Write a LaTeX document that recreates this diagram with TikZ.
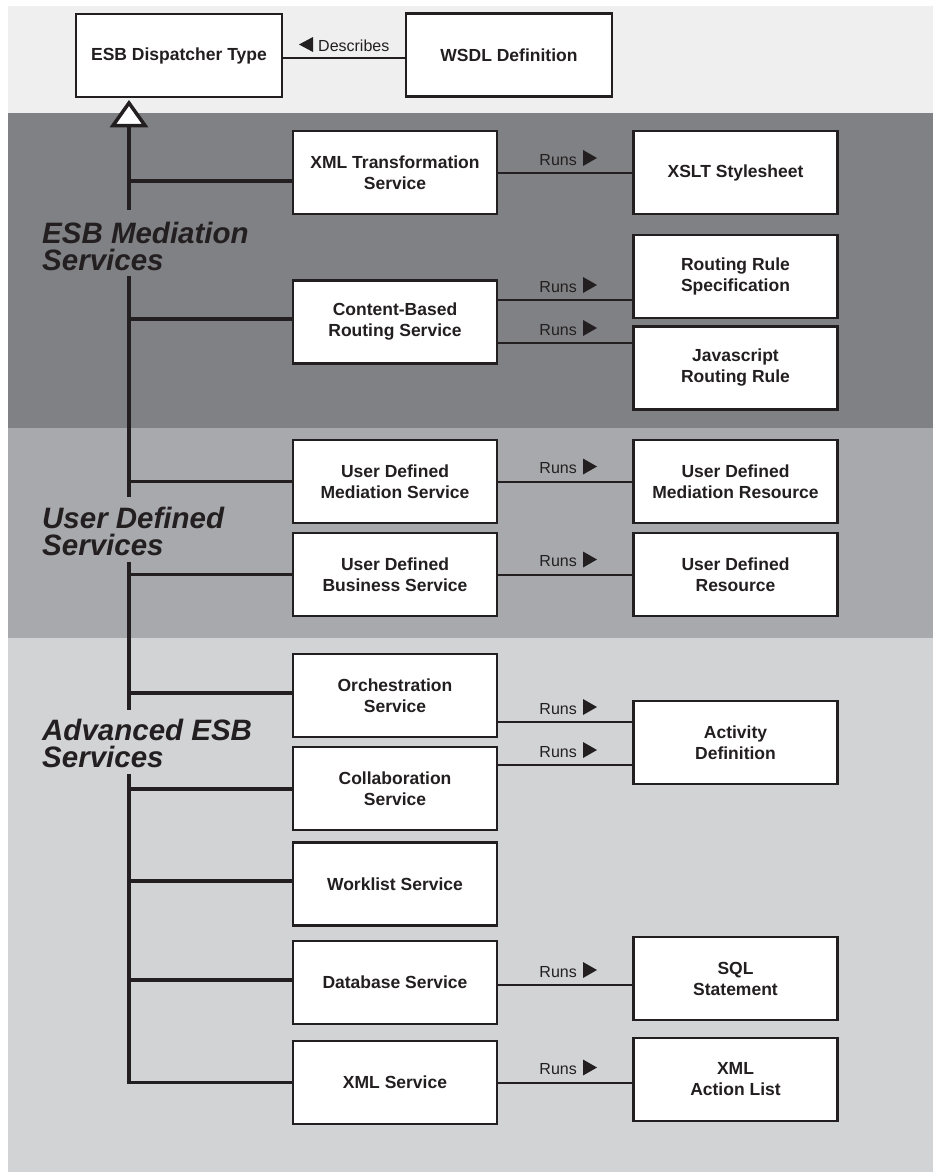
\documentclass[tikz,border=0pt]{standalone}
\usepackage{fontspec}
\setmainfont{Liberation Sans}
\usetikzlibrary{calc}

\definecolor{ink}{HTML}{231F20}
\definecolor{bandtop}{HTML}{EFEFEF}
\definecolor{banddark}{HTML}{808184}
\definecolor{bandmid}{HTML}{A7A9AC}
\definecolor{bandlight}{HTML}{D1D3D4}

\begin{document}
\begin{tikzpicture}[x=1pt,y=-1pt,
  box/.style={draw=ink, fill=white, line width=2.2pt,
    minimum width=204pt, minimum height=83pt, inner sep=2pt,
    align=center, text=ink,
    font=\fontsize{17.5}{21}\selectfont\bfseries},
  grouplabel/.style={anchor=base west, inner sep=0pt, align=left, text=ink,
    font=\fontsize{29.5}{27}\selectfont\bfseries\itshape},
  runslabel/.style={anchor=base east, inner sep=0pt, text=ink,
    font=\fontsize{16}{18}\selectfont},
  spine/.style={draw=ink, line width=3.5pt, line join=miter},
  link/.style={draw=ink, line width=2pt},
  pics/runtri/.style={code={\fill[ink] (0,0) -- (0,-16) -- (14,-8) -- cycle;}},
  pics/backtri/.style={code={\fill[ink] (0,0) -- (0,-15) -- (-14,-7.5) -- cycle;}}
]
% page and layer bands
\useasboundingbox (0,0) rectangle (933,1172);
\fill[white] (0,0) rectangle (933,1172);
\fill[bandtop]   (8,6)   rectangle (933,113);
\fill[banddark]  (8,113) rectangle (933,428);
\fill[bandmid]   (8,428) rectangle (933,638);
\fill[bandlight] (8,638) rectangle (933,1172);

% top row
\node[box, minimum width=206pt] (disp) at (179,55.5) {ESB Dispatcher Type};
\node[box, minimum width=206pt] (wsdl) at (509,55) {WSDL Definition};
\coordinate (dw) at ($(disp.east)+(0,2.5)$);
\draw[link] (dw) -- (dw -| wsdl.west);
\node[runslabel, anchor=base west] (desc) at (318,52) {Describes};
\pic at ($(desc.base west)+(-5,0)$) {backtri};

% middle column: services
\node[box] (xmlt)   at (395,172.5)  {XML Transformation\\Service};
\node[box] (cbr)    at (395,322)    {Content-Based\\Routing Service};
\node[box] (udms)   at (395,481.5)  {User Defined\\Mediation Service};
\node[box] (udbs)   at (395,574.5)  {User Defined\\Business Service};
\node[box] (orch)   at (395,695.5)  {Orchestration\\Service};
\node[box] (collab) at (395,788.5)  {Collaboration\\Service};
\node[box] (work)   at (395,884)    {Worklist Service};
\node[box] (db)     at (395,982.5)  {Database Service};
\node[box] (xmls)   at (395,1082.5) {XML Service};

% right column: resources
\node[box] (xslt) at (735.5,172.5)  {XSLT Stylesheet};
\node[box] (rrs)  at (735.5,276.5)  {Routing Rule\\Specification};
\node[box] (js)   at (735.5,368)    {Javascript\\Routing Rule};
\node[box] (udmr) at (735.5,481.5)  {User Defined\\Mediation Resource};
\node[box] (udr)  at (735.5,574.5)  {User Defined\\Resource};
\node[box] (act)  at (735.5,742.5)  {Activity\\Definition};
\node[box] (sql)  at (735.5,978.5)  {SQL\\Statement};
\node[box] (xal)  at (735.5,1079.5) {XML\\Action List};

% group labels (anchored on the baseline of their last line)
\node[grouplabel] (lmed)  at (42,270) {ESB Mediation\\Services};
\node[grouplabel] (luser) at (42,555) {User Defined\\Services};
\node[grouplabel] (ladv)  at (42,767) {Advanced ESB\\Services};

% generalization triangle and spine
\draw[draw=ink, fill=white, line width=3.5pt, line join=miter]
  (129,103) -- (145,125.5) -- (113,125.5) -- cycle;
\coordinate (genbase) at (129,127);
\coordinate (g1a) at (129,210);
\coordinate (g1b) at (129,276);
\coordinate (g2a) at (129,497);
\coordinate (g2b) at (129,562);
\coordinate (g3a) at (129,710);
\coordinate (g3b) at (129,774);
\draw[spine] (genbase) -- (g1a);
\draw[spine] (g1b) -- (g2a);
\draw[spine] (g2b) -- (g3a);
\draw[spine] (g3b) |- (xmls.west);

% branches from the spine
\foreach \y/\n in {181/xmlt, 319/cbr, 481.5/udms, 574.5/udbs,
                   693/orch, 789/collab, 881/work, 980/db} {
  \coordinate (s-\n) at (129,\y);
  \draw[spine] (s-\n) -- (s-\n -| \n.west);
}

% "Runs" associations
\coordinate (c1) at ($(cbr.east)+(0,-22)$);
\coordinate (c2) at ($(cbr.east)+(0,21)$);
\coordinate (a1) at ($(act.west)+(0,-20.5)$);
\coordinate (a2) at ($(act.west)+(0,22.5)$);
\coordinate (d1) at ($(db.east)+(0,2.5)$);

\draw[link] (xmlt.east) -- (xslt.west);
\node[runslabel] (r1) at (577,165) {Runs};
\pic at ($(r1.base east)+(6,1)$) {runtri};

\draw[link] (c1) -- (c1 -| rrs.west);
\node[runslabel] (r2) at (577,292) {Runs};
\pic at ($(r2.base east)+(6,1)$) {runtri};

\draw[link] (c2) -- (c2 -| js.west);
\node[runslabel] (r3) at (577,335) {Runs};
\pic at ($(r3.base east)+(6,1)$) {runtri};

\draw[link] (udms.east) -- (udmr.west);
\node[runslabel] (r4) at (577,473.5) {Runs};
\pic at ($(r4.base east)+(6,1)$) {runtri};

\draw[link] (udbs.east) -- (udr.west);
\node[runslabel] (r5) at (577,566.5) {Runs};
\pic at ($(r5.base east)+(6,1)$) {runtri};

\draw[link] (a1 -| orch.east) -- (a1);
\node[runslabel] (r6) at (577,714) {Runs};
\pic at ($(r6.base east)+(6,1)$) {runtri};

\draw[link] (a2 -| collab.east) -- (a2);
\node[runslabel] (r7) at (577,757) {Runs};
\pic at ($(r7.base east)+(6,1)$) {runtri};

\draw[link] (d1) -- (d1 -| sql.west);
\node[runslabel] (r8) at (577,977) {Runs};
\pic at ($(r8.base east)+(6,1)$) {runtri};

\draw[link] (xmls.east) -- (xmls.east -| xal.west);
\node[runslabel] (r9) at (577,1074.5) {Runs};
\pic at ($(r9.base east)+(6,1)$) {runtri};
\end{tikzpicture}
\end{document}
